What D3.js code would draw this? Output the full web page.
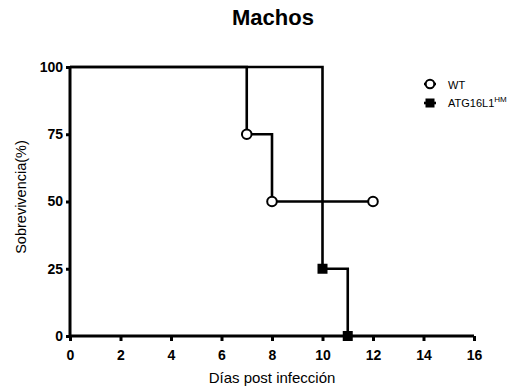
<!DOCTYPE html>
<html>
<head>
<meta charset="utf-8">
<script src="https://cdn.jsdelivr.net/npm/d3@7"></script>
<style>
  body { margin: 0; background: #fff; }
  text { font-family: "Liberation Sans", Arial, sans-serif; }
</style>
</head>
<body>
<div id="chart"></div>
<script>
var xTicks = [0, 2, 4, 6, 8, 10, 12, 14, 16];
var yTicks = [0, 25, 50, 75, 100];

// survival steps: [day, percent]
var wtSteps = [[0, 100], [7, 100], [7, 75], [8, 75], [8, 50], [12, 50]];
var wtMarks = [[7, 75], [8, 50], [12, 50]];

var hmSteps = [[0, 100], [10, 100], [10, 25], [11, 25], [11, 0]];
var hmMarks = [[10, 25], [11, 0]];

var svgWidth = 525;
var svgHeight = 387;

var margin = { top: 67, right: 51, bottom: 51, left: 70 };
var width = svgWidth - margin.left - margin.right;
var height = svgHeight - margin.top - margin.bottom;

var svg = d3.select("#chart")
  .append("svg")
  .attr("width", svgWidth)
  .attr("height", svgHeight);

var chartGroup = svg.append("g")
  .attr("transform", `translate(${margin.left}, ${margin.top})`);

var x = d3.scaleLinear().domain([0, 16]).range([0, width]);
var y = d3.scaleLinear().domain([0, 100]).range([height, 0]);

var bottomAxis = d3.axisBottom(x).tickValues(xTicks).tickSize(5).tickPadding(9);
var leftAxis = d3.axisLeft(y).tickValues(yTicks).tickSize(4).tickPadding(3);

var line = d3.line().x(d => x(d[0])).y(d => y(d[1]));

// survival lines
chartGroup.append("path")
  .datum(hmSteps)
  .attr("d", line)
  .attr("fill", "none")
  .attr("stroke", "#000")
  .attr("stroke-width", 2.6);

chartGroup.append("path")
  .datum(wtSteps)
  .attr("d", line)
  .attr("fill", "none")
  .attr("stroke", "#000")
  .attr("stroke-width", 2.6);

var xAxis = chartGroup.append("g")
  .attr("transform", `translate(0, ${height})`)
  .call(bottomAxis);

var yAxis = chartGroup.append("g")
  .call(leftAxis);

[xAxis, yAxis].forEach(function(ax) {
  ax.select(".domain").attr("stroke-width", 3).attr("stroke", "#000");
  ax.selectAll(".tick line").attr("stroke-width", 3).attr("stroke", "#000");
  ax.selectAll(".tick text")
    .attr("font-family", "Liberation Sans, Arial, sans-serif")
    .attr("font-size", "14px")
    .attr("font-weight", "bold")
    .attr("fill", "#000");
});
xAxis.select(".domain").attr("d", `M0,0H${width}`);
yAxis.select(".domain").attr("d", `M0,${height}V0`);

// markers
chartGroup.selectAll(".wt")
  .data(wtMarks)
  .enter()
  .append("circle")
  .attr("cx", d => x(d[0]))
  .attr("cy", d => y(d[1]))
  .attr("r", 4.8)
  .attr("fill", "#fff")
  .attr("stroke", "#000")
  .attr("stroke-width", 2);

chartGroup.selectAll(".hm")
  .data(hmMarks)
  .enter()
  .append("rect")
  .attr("x", d => x(d[0]) - 5)
  .attr("y", d => y(d[1]) - 5)
  .attr("width", 10)
  .attr("height", 10)
  .attr("fill", "#000");

// title and labels
svg.append("text")
  .attr("x", 273)
  .attr("y", 25)
  .attr("text-anchor", "middle")
  .attr("font-size", "22px")
  .attr("font-weight", "bold")
  .text("Machos");

svg.append("text")
  .attr("x", 272)
  .attr("y", 383)
  .attr("text-anchor", "middle")
  .attr("font-size", "15px")
  .text("Días post infección");

svg.append("text")
  .attr("transform", "translate(26, 197) rotate(-90)")
  .attr("text-anchor", "middle")
  .attr("font-size", "14.5px")
  .text("Sobrevivencia(%)");

// legend
var legend = svg.append("g").attr("transform", "translate(430, 84)");

legend.append("line")
  .attr("x1", -6).attr("x2", 6).attr("y1", 0).attr("y2", 0)
  .attr("stroke", "#000").attr("stroke-width", 2.6);
legend.append("circle")
  .attr("cx", 0).attr("cy", 0).attr("r", 4.3)
  .attr("fill", "#fff").attr("stroke", "#000").attr("stroke-width", 2);
legend.append("text")
  .attr("x", 18).attr("y", 5)
  .attr("font-size", "11px")
  .text("WT");

legend.append("line")
  .attr("x1", -6).attr("x2", 6).attr("y1", 19).attr("y2", 19)
  .attr("stroke", "#000").attr("stroke-width", 2.6);
legend.append("rect")
  .attr("x", -4.5).attr("y", 14.5).attr("width", 9).attr("height", 9)
  .attr("fill", "#000");
var hmLabel = legend.append("text")
  .attr("x", 18).attr("y", 23)
  .attr("font-size", "11px");
hmLabel.append("tspan").text("ATG16L1");
hmLabel.append("tspan")
  .attr("dy", -5)
  .attr("font-size", "8px")
  .text("HM");
</script>
</body>
</html>
